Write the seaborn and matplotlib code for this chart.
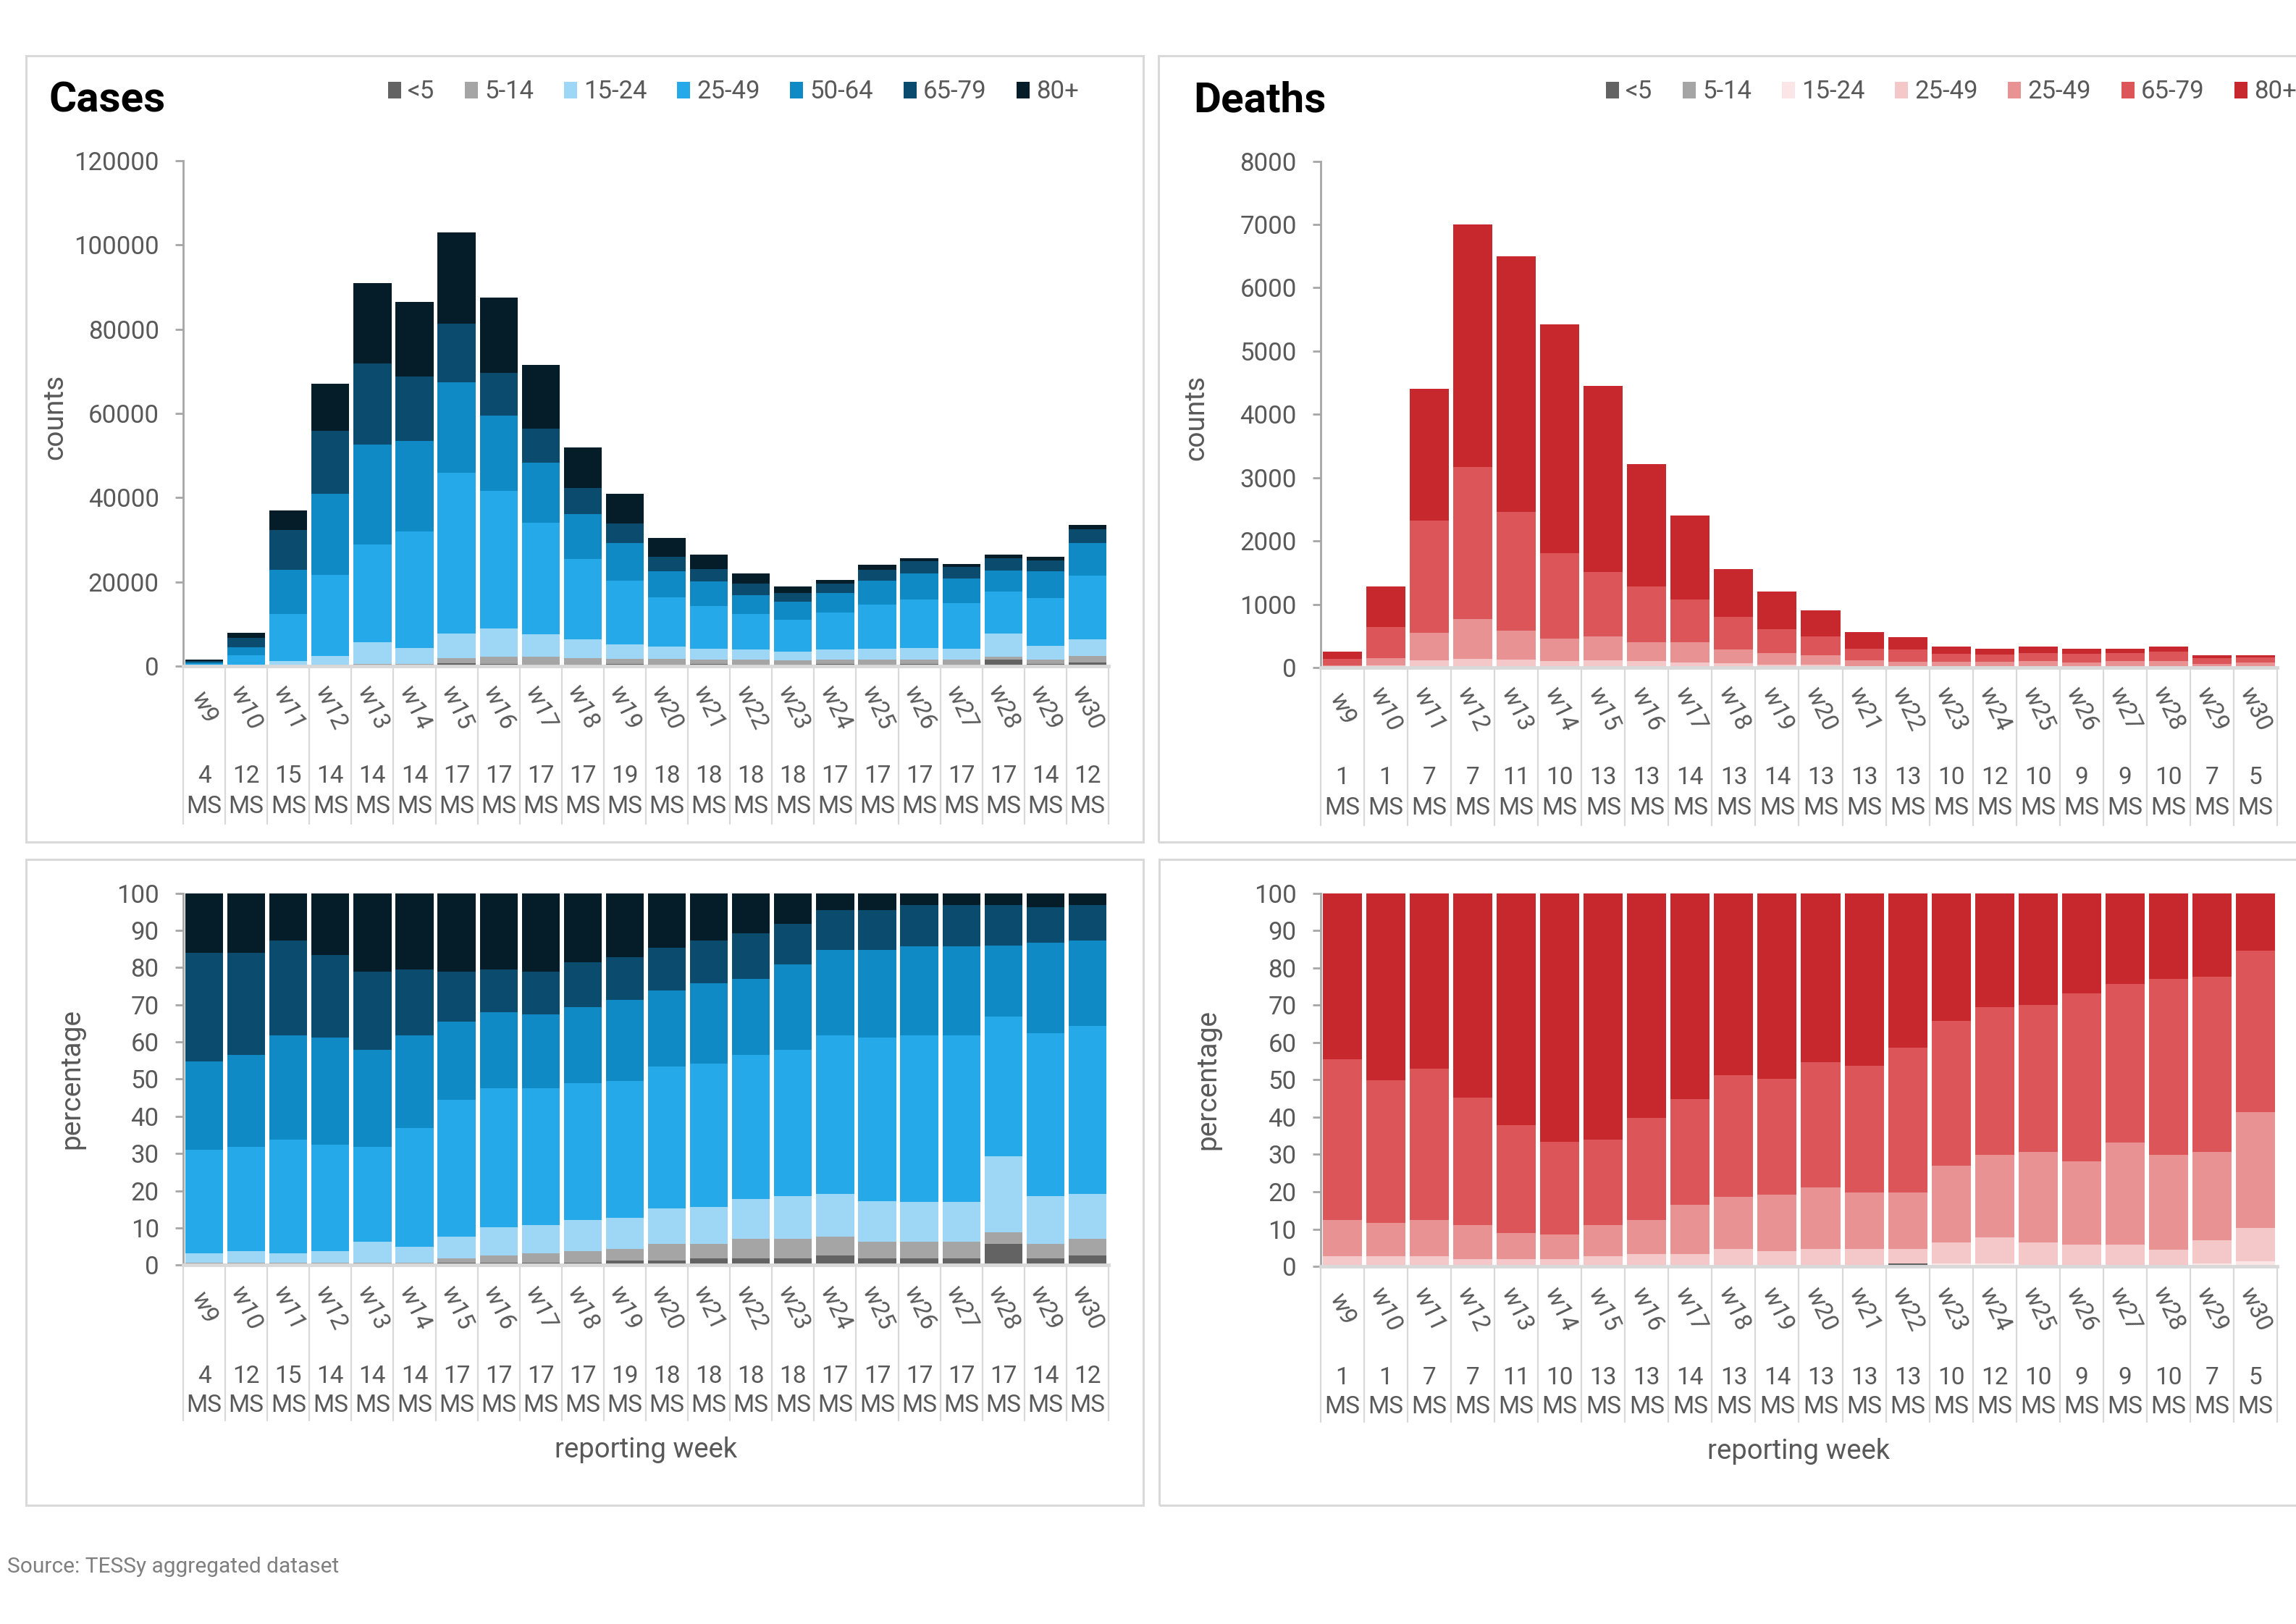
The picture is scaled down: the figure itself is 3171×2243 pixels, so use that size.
import numpy as np
import pandas as pd
import matplotlib
matplotlib.use("Agg")
import matplotlib.pyplot as plt
import matplotlib.transforms as mtransforms
from matplotlib.patches import Patch, Rectangle
from matplotlib.ticker import FuncFormatter
import seaborn as sns

# week labels and number of member states reporting
weeks = ["w9", "w10", "w11", "w12", "w13", "w14", "w15", "w16", "w17", "w18", "w19",
         "w20", "w21", "w22", "w23", "w24", "w25", "w26", "w27", "w28", "w29", "w30"]
cases_ms = [4, 12, 15, 14, 14, 14, 17, 17, 17, 17, 19, 18, 18, 18, 18, 17, 17, 17, 17, 17, 14, 12]
deaths_ms = [1, 1, 7, 7, 11, 10, 13, 13, 14, 13, 14, 13, 13, 13, 10, 12, 10, 9, 9, 10, 7, 5]

# weekly totals
cases_total = [1500, 8000, 37000, 67000, 91000, 86500, 103000, 87500, 71500, 52000, 41000,
               30500, 26500, 22000, 19000, 20500, 24000, 25700, 24300, 26500, 26000, 33500]
deaths_total = [250, 1280, 4400, 7000, 6500, 5420, 4450, 3220, 2400, 1560, 1200,
                900, 560, 480, 330, 300, 330, 300, 300, 330, 190, 190]

# age group shares in %
cases_labels = ["<5", "5-14", "15-24", "25-49", "50-64", "65-79", "80+"]
cases_lt5 = [0.1, 0.1, 0.1, 0.1, 0.4, 0.1, 0.6, 0.6, 0.6, 0.6, 1.2, 1.2, 1.8, 1.8, 1.8, 2.5, 1.8, 1.8, 1.8, 5.7, 1.8, 2.5]
cases_5_14 = [0.5, 0.5, 0.5, 0.5, 0.2, 0.5, 1.2, 1.9, 2.5, 3.1, 3.1, 4.5, 3.9, 5.2, 5.2, 5.1, 4.5, 4.5, 4.5, 3.1, 3.9, 4.5]
cases_15_24 = [2.5, 3.1, 2.5, 3.1, 5.7, 4.4, 5.8, 7.7, 7.6, 8.4, 8.4, 9.5, 10.0, 10.7, 11.5, 11.5, 10.8, 10.8, 10.8, 20.4, 12.8, 12.1]
cases_25_49 = [28.0, 28.0, 30.6, 28.7, 25.4, 31.9, 36.9, 37.4, 36.9, 36.9, 36.9, 38.2, 38.4, 38.9, 39.4, 42.7, 44.0, 44.7, 44.7, 37.7, 43.9, 45.2]
cases_50_64 = [23.7, 24.9, 28.1, 28.7, 26.2, 24.9, 21.0, 20.4, 19.9, 20.4, 21.8, 20.5, 21.7, 20.4, 22.9, 22.9, 23.6, 24.1, 24.1, 19.0, 24.3, 23.0]
cases_65_79 = [29.2, 27.4, 25.5, 22.3, 21.0, 17.7, 13.4, 11.5, 11.4, 12.1, 11.4, 11.4, 11.5, 12.2, 11.0, 10.7, 10.7, 11.0, 11.0, 10.9, 9.6, 9.5]
cases_80p = [16.0, 16.0, 12.7, 16.6, 21.1, 20.5, 21.1, 20.5, 21.1, 18.5, 17.2, 14.7, 12.7, 10.8, 8.2, 4.6, 4.6, 3.2, 3.2, 3.2, 3.7, 3.2]

deaths_labels = ["<5", "5-14", "15-24", "25-49", "25-49", "65-79", "80+"]
deaths_lt5 = [0, 0, 0, 0, 0, 0, 0, 0, 0, 0, 0, 0, 0, 0.7, 0, 0, 0, 0, 0, 0, 0, 0]
deaths_5_14 = [0] * 22
deaths_15_24 = [0, 0, 0, 0, 0, 0, 0, 0, 0, 0, 0, 0, 0, 0, 0.8, 0.7, 0, 0, 0, 0, 0.7, 1.4]
deaths_25_49 = [2.7, 2.7, 2.7, 2.0, 2.0, 2.0, 2.7, 3.4, 3.4, 4.6, 4.0, 4.6, 4.6, 3.9, 5.7, 7.1, 6.4, 5.8, 5.8, 4.4, 6.3, 8.9]
deaths_50_64 = [9.7, 8.9, 9.7, 9.0, 7.0, 6.5, 8.3, 9.0, 13.2, 14.0, 15.3, 16.5, 15.3, 15.3, 20.4, 22.1, 24.2, 22.3, 27.3, 25.5, 23.6, 31.0]
deaths_65_79 = [43.2, 38.2, 40.5, 34.3, 28.8, 24.8, 22.9, 27.3, 28.2, 32.6, 31.0, 33.7, 33.8, 38.8, 38.8, 39.6, 39.4, 45.0, 42.5, 47.1, 47.0, 43.3]
deaths_80p = [44.4, 50.2, 47.1, 54.7, 62.2, 66.7, 66.1, 60.3, 55.2, 48.8, 49.7, 45.2, 46.3, 41.3, 34.3, 30.5, 30.0, 26.9, 24.4, 23.0, 22.4, 15.4]

cases_colors = ["#636363", "#A5A5A5", "#9DD7F5", "#25A9E9", "#108AC5", "#0B4B6D", "#051C29"]
deaths_colors = ["#636363", "#A5A5A5", "#FBE5E6", "#F4C7C9", "#E99294", "#DC5558", "#C6282D"]

cases_pct = pd.DataFrame(np.array([cases_lt5, cases_5_14, cases_15_24, cases_25_49,
                                   cases_50_64, cases_65_79, cases_80p]).T, index=weeks)
deaths_pct = pd.DataFrame(np.array([deaths_lt5, deaths_5_14, deaths_15_24, deaths_25_49,
                                    deaths_50_64, deaths_65_79, deaths_80p]).T, index=weeks)
cases_pct = cases_pct.div(cases_pct.sum(axis=1), axis=0) * 100
deaths_pct = deaths_pct.div(deaths_pct.sum(axis=1), axis=0) * 100
cases_cnt = cases_pct.mul(cases_total, axis=0) / 100
deaths_cnt = deaths_pct.mul(deaths_total, axis=0) / 100

sns.set_theme(style="white")
plt.rcParams['font.family'] = ['Roboto', 'DejaVu Sans']

W, H = 3171, 2243
fig = plt.figure(figsize=(W / 100, H / 100), dpi=100)

GRAY_TXT = "#595959"
LINE = "#D9D9D9"


def stacked(ax, df, colors):
    # draw cumulative layers, tallest first, so each group shows as a segment
    cum = df.cumsum(axis=1)
    for i in reversed(range(df.shape[1])):
        sns.barplot(x=df.index, y=cum.iloc[:, i].values, color=colors[i], width=0.9,
                    saturation=1, errorbar=None, linewidth=0, ax=ax)
    ax.set_xlim(-0.5, len(df) - 0.5)
    ax.set_xlabel("")
    ax.set_xticks([])
    for s in ["top", "right"]:
        ax.spines[s].set_visible(False)
    ax.spines["left"].set_color("#A6A6A6")
    ax.spines["left"].set_linewidth(2)
    ax.spines["bottom"].set_color(LINE)
    ax.spines["bottom"].set_linewidth(3.5)
    ax.tick_params(axis="y", left=True, length=8, width=2, color="#A6A6A6",
                   labelsize=25, labelcolor=GRAY_TXT, pad=16)
    ax.yaxis.set_major_formatter(FuncFormatter(lambda v, p: f"{int(v)}"))


def category_axis(ax, ms, ax_h_px, w_off, n_off, m_off, line_px):
    tr = mtransforms.blended_transform_factory(ax.transData, ax.transAxes)
    for i, (w, m) in enumerate(zip(weeks, ms)):
        ax.annotate(w, xy=(i, 0), xycoords=tr, xytext=(0, -w_off), textcoords="offset pixels",
                    rotation=-65, ha="center", va="center", fontsize=24, color=GRAY_TXT)
        ax.annotate(str(m), xy=(i, 0), xycoords=tr, xytext=(0, -n_off), textcoords="offset pixels",
                    ha="center", va="center", fontsize=24, color=GRAY_TXT)
        ax.annotate("MS", xy=(i, 0), xycoords=tr, xytext=(0, -m_off), textcoords="offset pixels",
                    ha="center", va="center", fontsize=24, color=GRAY_TXT)
    frac = line_px / ax_h_px
    for i in range(len(weeks) + 1):
        ax.plot([i - 0.5, i - 0.5], [0, -frac], transform=tr, color=LINE, lw=1.6, clip_on=False)


# panel frames
for x0, y0, w, h in [(0.0114, 0.4815, 0.4866, 0.4842), (0.5046, 0.4815, 0.52, 0.4842),
                     (0.0114, 0.0731, 0.4866, 0.3977), (0.5049, 0.0731, 0.52, 0.3977)]:
    fig.add_artist(Rectangle((x0, y0), w, h, transform=fig.transFigure, fill=False,
                             edgecolor=LINE, linewidth=2.2))

pos = {
    "cases": [0.0798, 0.5898, 0.4030, 0.3112],
    "cases_pct": [0.0798, 0.2210, 0.4030, 0.2290],
    "deaths": [0.5752, 0.5889, 0.4166, 0.3119],
    "deaths_pct": [0.5752, 0.2202, 0.4166, 0.2298],
}

ax1 = fig.add_axes(pos["cases"])
stacked(ax1, cases_cnt, cases_colors)
ax1.set_ylim(0, 120000)
ax1.set_yticks(range(0, 120001, 20000))
ax1.set_ylabel("counts", fontsize=28, color=GRAY_TXT)
ax1.yaxis.set_label_coords(-0.124, 0.493)
category_axis(ax1, cases_ms, pos["cases"][3] * H, 57, 152, 194, 218)

ax2 = fig.add_axes(pos["cases_pct"])
stacked(ax2, cases_pct, cases_colors)
ax2.set_ylim(0, 100)
ax2.set_yticks(range(0, 101, 10))
ax2.set_ylabel("percentage", fontsize=28, color=GRAY_TXT)
ax2.yaxis.set_label_coords(-0.106, 0.5)
category_axis(ax2, cases_ms, pos["cases_pct"][3] * H, 59, 154, 194, 215)
ax2.annotate("reporting week", xy=(0.5, 0), xycoords="axes fraction", xytext=(0, -255),
             textcoords="offset pixels", ha="center", va="center", fontsize=27.5, color=GRAY_TXT)

ax3 = fig.add_axes(pos["deaths"])
stacked(ax3, deaths_cnt, deaths_colors)
ax3.set_ylim(0, 8000)
ax3.set_yticks(range(0, 8001, 1000))
ax3.set_ylabel("counts", fontsize=28, color=GRAY_TXT)
ax3.yaxis.set_label_coords(-0.1165, 0.493)
category_axis(ax3, deaths_ms, pos["deaths"][3] * H, 57, 152, 194, 218)

ax4 = fig.add_axes(pos["deaths_pct"])
stacked(ax4, deaths_pct, deaths_colors)
ax4.set_ylim(0, 100)
ax4.set_yticks(range(0, 101, 10))
ax4.set_ylabel("percentage", fontsize=28, color=GRAY_TXT)
ax4.yaxis.set_label_coords(-0.1045, 0.5)
category_axis(ax4, deaths_ms, pos["deaths_pct"][3] * H, 59, 154, 194, 215)
ax4.annotate("reporting week", xy=(0.5, 0), xycoords="axes fraction", xytext=(0, -255),
             textcoords="offset pixels", ha="center", va="center", fontsize=27.5, color=GRAY_TXT)

# titles and legends
fig.text(67 / W, 1 - 139 / H, "Cases", fontsize=42, fontweight="bold", color="black",
         ha="left", va="center")
fig.text(1648 / W, 1 - 139 / H, "Deaths", fontsize=42, fontweight="bold", color="black",
         ha="left", va="center")

for ax, labels, colors, x0 in [(ax1, cases_labels, cases_colors, 536 / W),
                               (ax3, deaths_labels, deaths_colors, 2218 / W)]:
    handles = [Patch(facecolor=c, edgecolor="none") for c in colors]
    ax.legend(handles, labels, ncol=7, loc="center left", bbox_to_anchor=(x0, 1 - 127 / H),
              bbox_transform=fig.transFigure, frameon=False, fontsize=25, handlelength=0.52,
              handleheight=0.63, handletextpad=0.26, columnspacing=1.2, borderpad=0,
              borderaxespad=0, labelcolor=GRAY_TXT)

fig.text(10 / W, 1 - 2164 / H, "Source: TESSy aggregated dataset", fontsize=21.5,
         color="#7F7F7F", ha="left", va="center")

fig.savefig("out.png", dpi=100)
